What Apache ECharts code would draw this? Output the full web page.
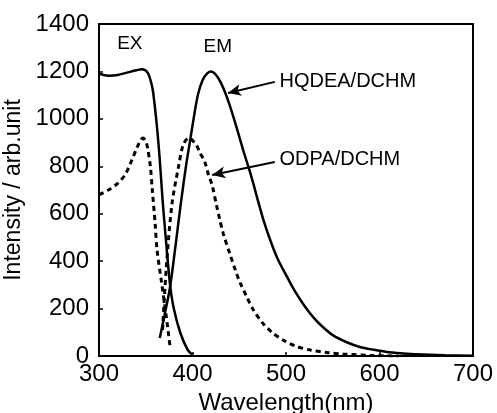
<!DOCTYPE html>
<html>
<head>
<meta charset="utf-8">
<script src="https://cdn.jsdelivr.net/npm/echarts@6/dist/echarts.min.js"></script>
<style>
html,body{margin:0;padding:0;background:#fff;}
#c{width:497px;height:413px;}
</style>
</head>
<body>
<div id="c"></div>
<script>
// Wavelength ticks
const xTicks = [300, 400, 500, 600, 700];
const yTicks = [0, 200, 400, 600, 800, 1000, 1200, 1400];

// HQDEA/DCHM excitation (solid)
const hqExX = [300, 310, 320, 330, 340, 346, 352, 356, 358, 362, 365, 368, 372, 376, 380, 387, 395, 400];
const hqExY = [1190, 1182, 1185, 1195, 1205, 1209, 1195, 1150, 1109, 966, 827, 658, 470, 300, 200, 97, 25, 5];

// HQDEA/DCHM emission (solid)
const hqEmX = [365, 370, 376, 382, 388, 393, 397, 402, 406, 411, 416, 420, 425, 430, 435, 440, 445, 450, 455, 460, 465, 470, 476, 483, 491, 501, 510, 520, 530, 540, 550, 565, 579, 594, 608, 625, 640, 670, 700];
const hqEmY = [76, 170, 291, 470, 658, 800, 898, 1020, 1105, 1165, 1193, 1200, 1186, 1155, 1110, 1055, 992, 925, 858, 795, 728, 655, 572, 490, 410, 335, 270, 210, 160, 120, 88, 58, 38, 26, 17, 11, 7, 3, 1];

// ODPA/DCHM excitation (dashed)
const odExX = [300, 310, 320, 328, 335, 341, 345, 347, 350, 352, 355, 357, 360, 362, 367, 372, 376];
const odExY = [680, 700, 728, 765, 825, 882, 912, 919, 905, 877, 797, 700, 560, 450, 308, 165, 40];

// ODPA/DCHM emission (dashed)
const odEmX = [368, 372, 378, 385, 390, 396, 404, 408, 413, 417, 421, 426, 429, 433, 440, 446, 451, 458, 465, 475, 485, 497, 510, 526, 545, 561, 593, 620];
const odEmY = [110, 375, 640, 797, 890, 920, 890, 856, 820, 765, 720, 630, 578, 515, 430, 360, 308, 250, 195, 139, 100, 67, 42, 25, 14, 8, 2, 0];

// Annotations
const labelNames = ['HQDEA/DCHM', 'ODPA/DCHM', 'EX', 'EM'];
const labelPos = [[493, 1156], [493, 827], [333, 1318], [427, 1305]];
const arrowHq = [[488, 1156], [438, 1109]];
const arrowOd = [[488, 818], [421, 763]];

function pairs(xs, ys){ return xs.map((x,i)=>[x, ys[i]]); }

const FONT = 'Liberation Sans, Arial, sans-serif';
const chart = echarts.init(document.getElementById('c'), null, {renderer:'canvas'});

const solid = {type:'line', smooth:0.3, symbol:'none', lineStyle:{color:'#000', width:2.5}, animation:false};
const dashed = {type:'line', smooth:0.3, symbol:'none', lineStyle:{color:'#000', width:3, type:[5,4]}, animation:false};

function arrowLine(a){
  return {
    silent:true, animation:false,
    symbol:['none','arrow'], symbolSize:[9,13],
    lineStyle:{color:'#000', width:2, type:'solid'},
    label:{show:false},
    data:[[{coord:a[0]},{coord:a[1]}]]
  };
}

chart.setOption({
  animation:false,
  backgroundColor:'#fff',
  grid:{left:99, top:24, right:24, bottom:57, containLabel:false, outerBoundsMode:'none',
        show:true, borderColor:'#000', borderWidth:2, backgroundColor:'transparent'},
  xAxis:{
    type:'value', min:xTicks[0], max:xTicks[xTicks.length-1], interval:100,
    name:'Wavelength(nm)', nameLocation:'middle', nameGap:46,
    nameTextStyle:{fontFamily:FONT, fontSize:24, color:'#000', verticalAlign:'middle'},
    axisLine:{show:true, lineStyle:{color:'#000', width:2}},
    axisTick:{show:true, inside:true, length:4, lineStyle:{color:'#000', width:1.5}},
    axisLabel:{fontFamily:FONT, fontSize:24, color:'#000', margin:6, formatter:(v)=>String(v)},
    splitLine:{show:false}
  },
  yAxis:{
    type:'value', min:yTicks[0], max:yTicks[yTicks.length-1], interval:200,
    name:'Intensity / arb.unit', nameLocation:'middle', nameGap:77, nameRotate:90,
    nameTextStyle:{fontFamily:FONT, fontSize:23, color:'#000', verticalAlign:'middle'},
    axisLine:{show:true, lineStyle:{color:'#000', width:2}},
    axisTick:{show:true, inside:true, length:4, lineStyle:{color:'#000', width:1.5}},
    axisLabel:{fontFamily:FONT, fontSize:24, color:'#000', margin:10, formatter:(v)=>String(v)},
    splitLine:{show:false}
  },
  series:[
    Object.assign({}, solid, {name:'HQDEA EX', data:pairs(hqExX, hqExY)}),
    Object.assign({}, solid, {name:'HQDEA EM', data:pairs(hqEmX, hqEmY), markLine:arrowLine(arrowHq)}),
    Object.assign({}, dashed, {name:'ODPA EX', data:pairs(odExX, odExY)}),
    Object.assign({}, dashed, {name:'ODPA EM', data:pairs(odEmX, odEmY), markLine:arrowLine(arrowOd)})
  ]
});

const aligns = ['left','left','center','center'];
const sizes = [20, 20, 19, 19];
chart.setOption({
  graphic: labelNames.map((t,i)=>{
    const p = chart.convertToPixel({gridIndex:0}, labelPos[i]);
    return {type:'text', x:p[0], y:p[1], silent:true,
      style:{text:t, fill:'#000', font:sizes[i]+'px '+FONT, textAlign:aligns[i], textVerticalAlign:'middle'}};
  })
});
</script>
</body>
</html>
